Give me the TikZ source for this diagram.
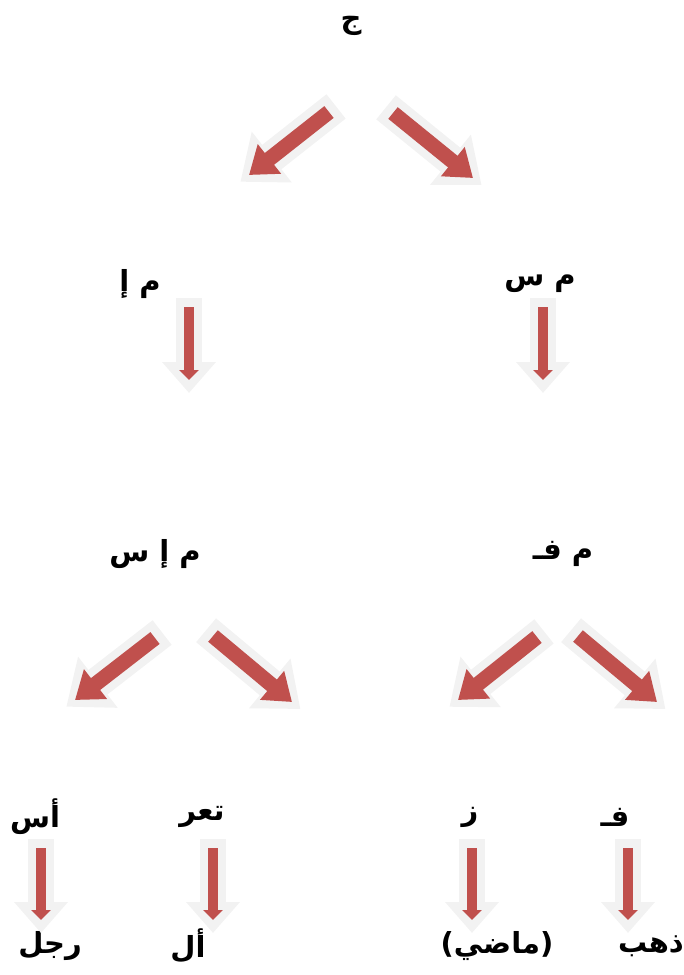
\documentclass[tikz,border=0pt]{standalone}
\usepackage{fontspec}
\usepackage{xcolor}
\usepackage{tikz}
\usetikzlibrary{arrows.meta}
\TeXXeTstate=1
\newfontfamily\arabicfont[Script=Arabic]{DejaVu Sans}
\definecolor{treered}{HTML}{C0504D}
\definecolor{treegrey}{HTML}{F2F2F2}

\begin{document}
\begin{tikzpicture}[x=1pt, y=-1pt,
  lbl/.style={font=\arabicfont\bfseries\fontsize{29}{34}\selectfont, inner sep=0pt},
  bigarrow/.style={draw=treered, line width=15pt, -{Triangle[width=36pt,length=26pt]},
    preaction={draw=treegrey, line width=31pt, -{Triangle[width=62pt,length=40pt]},
      shorten >=-11pt, shorten <=-9pt}},
  smallarrow/.style={draw=treered, line width=10pt, -{Triangle[width=19pt,length=10pt]},
    preaction={draw=treegrey, line width=26pt, -{Triangle[width=52pt,length=31pt]},
      shorten >=-13pt, shorten <=-9pt}}]
  \useasboundingbox (0,0) rectangle (684,975);
  \node[lbl] (j) at (351,26) {\beginR ج\endR};
  \node[lbl] (mi) at (140,284) {\beginR م إ\endR};
  \node[lbl] (ms) at (540,284) {\beginR م س\endR};
  \node[lbl] (mis) at (155,554) {\beginR م إ س\endR};
  \node[lbl] (mf) at (563,554) {\beginR م فـ\endR};
  \node[lbl] (as) at (35,817) {\beginR أس\endR};
  \node[lbl] (taar) at (202,817) {\beginR تعر\endR};
  \node[lbl] (z) at (470,817) {\beginR ز\endR};
  \node[lbl] (f) at (615,817) {\beginR فـ\endR};
  \node[lbl] (rajul) at (50,946) {\beginR رجل\endR};
  \node[lbl] (al) at (188,946) {\beginR أل\endR};
  \node[lbl] (madi) at (497,946) {\beginR (ماضي)\endR};
  \node[lbl] (dhahab) at (651,946) {\beginR ذهب\endR};
  \coordinate (t1) at (329,112);
  \coordinate (t2) at (249,175);
  \coordinate (t3) at (393,113);
  \coordinate (t4) at (473,178);
  \coordinate (v1) at (189,307);
  \coordinate (v2) at (189,380);
  \coordinate (v3) at (543,307);
  \coordinate (v4) at (543,380);
  \coordinate (d1) at (155,638);
  \coordinate (d2) at (75,700);
  \coordinate (d3) at (213,636);
  \coordinate (d4) at (292,702);
  \coordinate (d5) at (537,637);
  \coordinate (d6) at (458,700);
  \coordinate (d7) at (578,636);
  \coordinate (d8) at (657,702);
  \coordinate (b1) at (41,848);
  \coordinate (b2) at (41,920);
  \coordinate (b3) at (213,848);
  \coordinate (b4) at (213,920);
  \coordinate (b5) at (472,848);
  \coordinate (b6) at (472,920);
  \coordinate (b7) at (628,848);
  \coordinate (b8) at (628,920);
  \draw[bigarrow] (t1) -- (t2);
  \draw[bigarrow] (t3) -- (t4);
  \draw[smallarrow] (v1) -- (v2);
  \draw[smallarrow] (v3) -- (v4);
  \draw[bigarrow] (d1) -- (d2);
  \draw[bigarrow] (d3) -- (d4);
  \draw[bigarrow] (d5) -- (d6);
  \draw[bigarrow] (d7) -- (d8);
  \draw[smallarrow] (b1) -- (b2);
  \draw[smallarrow] (b3) -- (b4);
  \draw[smallarrow] (b5) -- (b6);
  \draw[smallarrow] (b7) -- (b8);
\end{tikzpicture}
\end{document}
